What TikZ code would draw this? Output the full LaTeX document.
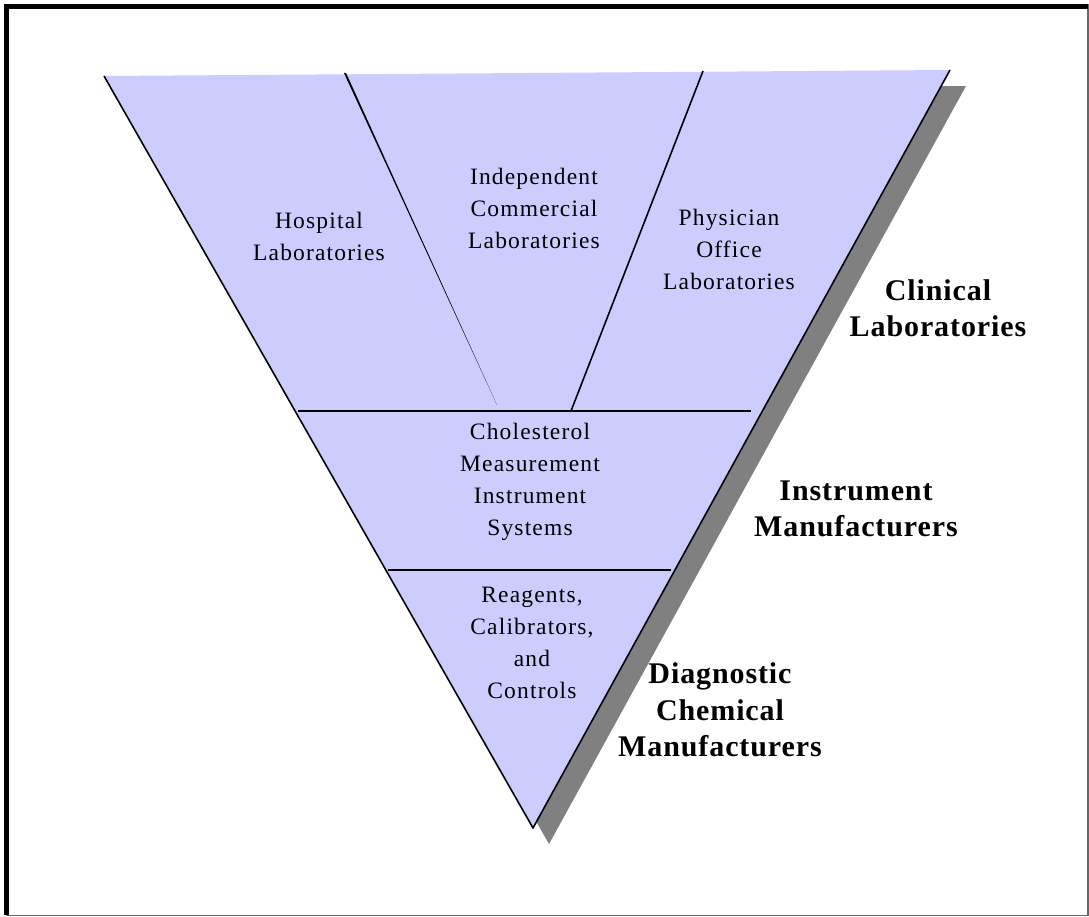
\documentclass[tikz,border=0pt]{standalone}
\usepackage{fontspec}
\setmainfont{Liberation Serif}
\newfontfamily\tierfont[LetterSpace=5]{Liberation Serif}
\newfontfamily\layerfont[LetterSpace=3]{Liberation Serif}
\usepackage{tikz}

\definecolor{lavender}{HTML}{CCCCFF}
\definecolor{shadowgray}{HTML}{808080}

\begin{document}
\begin{tikzpicture}[
  x=1pt, y=-1pt,
  tier/.style={font=\tierfont\fontsize{23.5}{32}\selectfont, align=center, inner sep=0pt},
  layer/.style={font=\layerfont\bfseries\fontsize{30}{36.5}\selectfont, align=center, inner sep=0pt},
  rim/.style={line width=1.6pt, line join=round},
  band/.style={line width=2.6pt}
]
\useasboundingbox (0,0) rectangle (1089,917);

% frame
\draw[line width=1.5pt, black!60] (1088,4) -- (1088,915.5) -- (6,915.5);
\draw[line width=5pt] (6.5,915) -- (6.5,6.5) -- (1088,6.5);

% corners of the funnel
\coordinate (tl) at (104,76);
\coordinate (tr) at (950,70);
\coordinate (tip) at (533,828);
\coordinate (cutA) at (345,73);
\coordinate (cutAend) at (497,405);
\coordinate (cutB) at (703,71);
\coordinate (cutBend) at (571,411);
\coordinate (bandAl) at (298,411);
\coordinate (bandAr) at (751,411);
\coordinate (bandBl) at (388,570);
\coordinate (bandBr) at (671,570);

% shadow and body
\fill[shadowgray] (120,92) -- (966,86) -- (549,844) -- cycle;
\fill[lavender] (tl) -- (tr) -- (tip) -- cycle;
\draw[rim] (tl) -- (tip) -- (tr);

% dividers
\fill ([xshift=-1.1pt]cutA) -- ([xshift=1.1pt]cutA) -- (cutAend) -- cycle;
\draw[rim] (cutB) -- (cutBend);
\draw[band] (bandAl) -- (bandAr);
\draw[band] (bandBl) -- (bandBr);

% sections
\node[tier] (hosp) at (319,236) {Hospital\\Laboratories};
\node[tier] (indep) at (534,208) {Independent\\Commercial\\Laboratories};
\node[tier] (phys) at (729,249) {Physician\\Office\\Laboratories};
\node[tier] (chol) at (530,482) {Cholesterol\\Measurement\\Instrument\\Systems};
\node[tier] (reag) at (532,643) {Reagents,\\Calibrators,\\and\\Controls};

% levels
\node[layer] (clin) at (938,308) {Clinical\\Laboratories};
\node[layer] (instr) at (856,509) {Instrument\\Manufacturers};
\node[layer] (diag) at (720,710) {Diagnostic\\Chemical\\Manufacturers};
\end{tikzpicture}
\end{document}
